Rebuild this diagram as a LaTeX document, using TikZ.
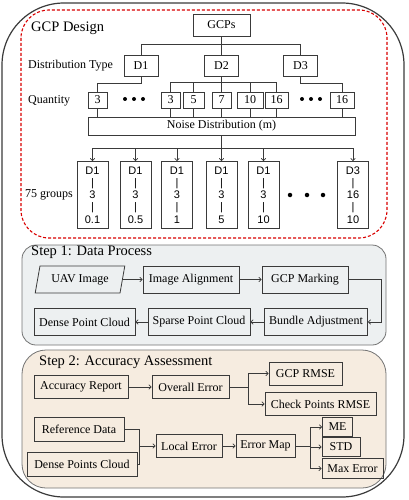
\documentclass[tikz,border=0pt]{standalone}
\usepackage{fontspec}
\setmainfont{Liberation Serif}
\setsansfont{Liberation Sans}
\newfontfamily\tnr{Liberation Serif}
\newfontfamily\arl{Liberation Sans}
\usetikzlibrary{calc,arrows.meta,shapes.geometric}

\definecolor{stepone}{HTML}{EDF0F1}
\definecolor{steptwo}{HTML}{F6ECE0}
\definecolor{linegray}{HTML}{3A3A3A}

\tikzset{
  box/.style={draw=linegray,line width=0.8pt,inner sep=0pt,font=\tnr\fontsize{12}{14}\selectfont},
  qbox/.style={box,minimum height=16pt},
  grp/.style={draw=linegray,line width=0.8pt,minimum width=31pt,minimum height=67pt,inner sep=0pt,align=center,font=\arl\fontsize{11}{12.2}\selectfont},
  lbl/.style={anchor=west,inner sep=0pt,font=\tnr\fontsize{12}{14}\selectfont},
  ttl/.style={anchor=west,inner sep=0pt,font=\tnr\fontsize{14.5}{16}\selectfont},
  link/.style={draw=linegray,line width=0.7pt},
  arr/.style={link,-{To[length=3pt,width=5pt]}},
  bigdot/.style={circle,fill=black,inner sep=0pt,minimum size=4.5pt},
}

\begin{document}
\begin{tikzpicture}[x=1pt,y=-1pt]

\useasboundingbox (0,0) rectangle (408,500);

\draw [linegray,line width=1.2pt,rounded corners=62pt] (2,3) rectangle (404,497);

\draw [red!85!black,line width=1.1pt,dash pattern=on 3pt off 2pt,rounded corners=28pt] (21,10) rectangle (387,238);
\draw [black!55,fill=stepone,line width=0.8pt,rounded corners=14pt] (22,245) rectangle (386,345);
\draw [black!55,fill=steptwo,line width=0.8pt,rounded corners=24pt] (22,350) rectangle (386,488);

% GCP design
\node [ttl] (t0) at (31,28) {GCP Design};
\node [lbl] (ldist) at (28,65.5) {Distribution Type};
\node [lbl] (lquant) at (28,101) {Quantity};
\node [lbl] (lgroups) at (25,195) {75 groups};

\node [box,minimum width=57pt,minimum height=22pt] (gcps) at (221.5,25) {GCPs};
\node [box,minimum width=34pt,minimum height=21pt] (d1) at (141,65.5) {D1};
\node [box,minimum width=34pt,minimum height=21pt] (d2) at (221.5,65.5) {D2};
\node [box,minimum width=34pt,minimum height=21pt] (d3) at (300.5,65.5) {D3};

\draw [link] (gcps.south) -- ++(0,8) -| (d1.north);
\draw [link] (gcps.south) ++(0,8) -| (d3.north);
\draw [link] (gcps.south) -- (d2.north);

\node [qbox,minimum width=19pt] (q1) at (97.5,100) {3};
\node [qbox,minimum width=19pt] (q3) at (170.5,100) {3};
\node [qbox,minimum width=21pt] (q5) at (193.5,100) {5};
\node [qbox,minimum width=19pt] (q7) at (221.5,100) {7};
\node [qbox,minimum width=26pt] (q10) at (250,100) {10};
\node [qbox,minimum width=23pt] (q16) at (276.5,100) {16};
\node [qbox,minimum width=24pt] (q16b) at (342,100) {16};

\node [bigdot,minimum size=4pt] (qa1) at (125,99) {};
\node [bigdot,minimum size=4pt] (qa2) at (134,99) {};
\node [bigdot,minimum size=4pt] (qa3) at (143,99) {};
\node [bigdot,minimum size=4pt] (qb1) at (302,99) {};
\node [bigdot,minimum size=4pt] (qb2) at (311,99) {};
\node [bigdot,minimum size=4pt] (qb3) at (320,99) {};

\draw [link] (d1.south) -- ++(0,7) -| (q1.north);
\draw [link] (d2.south) -- (q7.north);
\draw [link] (q3.north) -- ++(0,-9) -| (q16.north);
\draw [link] (q5.north) -- ++(0,-9);
\draw [link] (q10.north) -- ++(0,-9);
\draw [link] (d3.south) -- ++(0,7) -| (q16b.north);

\node [box,minimum width=267pt,minimum height=18pt] (noise) at (221.5,126) {Noise Distribution (m)};

\foreach \q in {q1,q3,q5,q7,q10,q16,q16b}
  \draw [link] (\q.south) -- (\q.south |- noise.north);

\node [grp] (g1) at (92.5,195) {D1\\|\\3\\|\\0.1};
\node [grp] (g2) at (135.5,195) {D1\\|\\3\\|\\0.5};
\node [grp] (g3) at (177,195) {D1\\|\\3\\|\\1};
\node [grp] (g4) at (221.5,195) {D1\\|\\3\\|\\5};
\node [grp] (g5) at (263.5,195) {D1\\|\\3\\|\\10};
\node [grp] (g6) at (353,195) {D3\\|\\16\\|\\10};

\node [bigdot] (ga1) at (290,195) {};
\node [bigdot] (ga2) at (307,195) {};
\node [bigdot] (ga3) at (323,195) {};

\coordinate (nsplit) at ($(noise.south)+(0,13)$);
\draw [link] (noise.south) -- (nsplit);
\draw [link] (g1.north |- nsplit) -- (g6.north |- nsplit);
\foreach \g in {g1,g2,g3,g4,g5,g6}
  \draw [arr] (\g.north |- nsplit) -- (\g.north);

% Step 1
\node [ttl] (t1) at (31,252) {Step 1: Data Process};

\node [box,trapezium,trapezium left angle=72,trapezium right angle=108,trapezium stretches=true,minimum width=90pt,minimum height=27pt] (uav) at (80,279.5) {UAV Image};
\node [box,minimum width=96pt,minimum height=27pt] (align) at (191,279.5) {Image Alignment};
\node [box,minimum width=86pt,minimum height=27pt] (mark) at (305,279.5) {GCP Marking};
\node [box,minimum width=101pt,minimum height=27pt] (dense) at (84.5,322) {Dense Point Cloud};
\node [box,minimum width=102pt,minimum height=27pt] (sparse) at (199,322) {Sparse Point Cloud};
\node [box,minimum width=103pt,minimum height=27pt] (bundle) at (316,322) {Bundle Adjustment};

\draw [arr] (uav) -- (align);
\draw [arr] (align) -- (mark);
\draw [arr] (mark.east) -- ++(33,0) |- (bundle.east);
\draw [arr] (bundle) -- (sparse);
\draw [arr] (sparse) -- (dense);

% Step 2
\node [ttl] (t2) at (39,362) {Step 2: Accuracy Assessment};

\node [box,minimum width=94pt,minimum height=23pt] (report) at (81,387) {Accuracy Report};
\node [box,minimum width=77pt,minimum height=23pt] (overall) at (190.5,387) {Overall Error};
\node [box,minimum width=73pt,minimum height=23pt] (gcprmse) at (305.5,373.5) {GCP RMSE};
\node [box,minimum width=111pt,minimum height=23pt] (checkrmse) at (320.5,404) {Check Points RMSE};

\draw [arr] (report) -- (overall);
\draw [link] (overall.east) -- ++(19,0) coordinate (ofork);
\draw [arr] (ofork) |- (gcprmse.west);
\draw [arr] (ofork) |- (checkrmse.west);

\node [box,minimum width=90pt,minimum height=24pt] (refdata) at (79,429) {Reference Data};
\node [box,minimum width=110pt,minimum height=24pt] (dpc) at (82,464) {Dense Points Cloud};
\node [box,minimum width=66pt,minimum height=23pt] (locerr) at (189,446) {Local Error};
\node [box,minimum width=59pt,minimum height=23pt] (errmap) at (265.5,446) {Error Map};
\node [box,minimum width=30pt,minimum height=19pt] (me) at (337.5,427) {ME};
\node [box,minimum width=38pt,minimum height=19pt] (std) at (341,447) {STD};
\node [box,minimum width=61pt,minimum height=20pt] (maxerr) at (352.5,468.5) {Max Error};

\coordinate (jn) at ($(locerr.west)+(-16,0)$);
\draw [link] (refdata.east) -| (jn) |- (dpc.east);
\draw [arr] (jn) -- (locerr.west);
\draw [arr] (locerr) -- (errmap);
\draw [link] (errmap.east) -- ++(15,0) coordinate (efork);
\draw [arr] (efork) |- (me.west);
\draw [arr] (efork) |- (std.west);
\draw [arr] (efork) |- (maxerr.west);

\end{tikzpicture}
\end{document}
